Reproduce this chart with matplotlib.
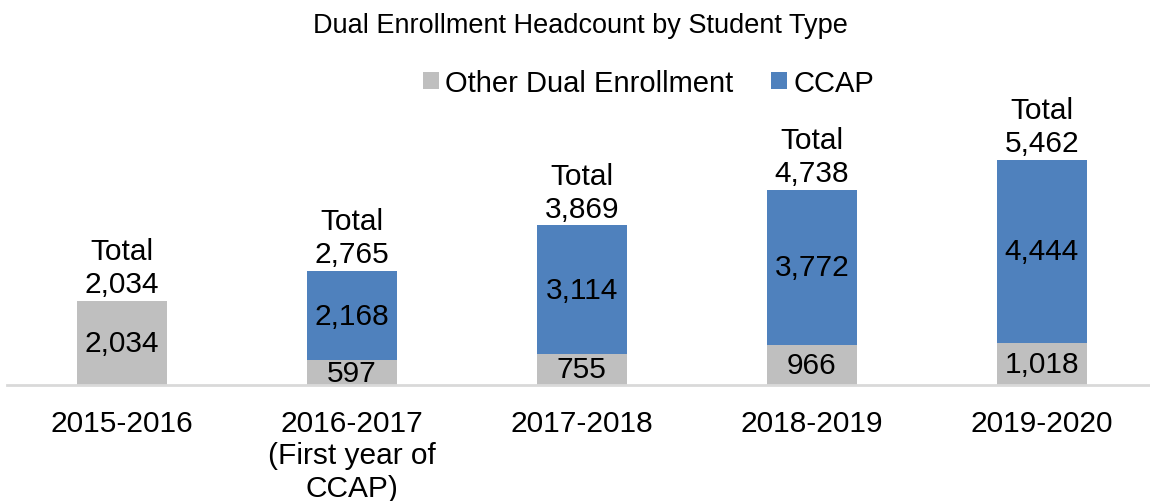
import matplotlib.pyplot as plt
import numpy as np

plt.rcParams['font.family'] = ['Liberation Sans', 'DejaVu Sans']

years = ["2015-2016", "2016-2017\n(First year of\nCCAP)", "2017-2018", "2018-2019", "2019-2020"]
other_de = [2034, 597, 755, 966, 1018]
ccap = [0, 2168, 3114, 3772, 4444]
totals = [2034, 2765, 3869, 4738, 5462]

gray = "#BFBFBF"
blue = "#4F81BD"
fs = 21.5

fig = plt.figure(figsize=(11.5, 5.02), dpi=100)
ax = fig.add_axes([0.006, 1 - 386 / 502, 1.0, (386 - 56) / 502])

x = np.arange(len(years))
w = 0.39
ax.bar(x, other_de, w, color=gray, label="Other Dual Enrollment")
ax.bar(x, ccap, w, bottom=other_de, color=blue, label="CCAP")

for i in x:
    ax.text(i, other_de[i] / 2, f"{other_de[i]:,}", ha='center', va='center', fontsize=fs)
    if ccap[i]:
        ax.text(i, other_de[i] + ccap[i] / 2, f"{ccap[i]:,}", ha='center', va='center', fontsize=fs)
    ax.text(i, totals[i] + 70, f"Total\n{totals[i]:,}", ha='center', va='bottom',
            fontsize=fs, linespacing=1.22)

ax.set_xlim(-0.5, len(years) - 0.5)
ax.set_ylim(0, 8000)
ax.set_xticks(x)
ax.set_xticklabels(years, fontsize=fs, linespacing=1.22)
ax.tick_params(axis='x', length=0, pad=17)
ax.set_yticks([])
for s in ['top', 'right', 'left']:
    ax.spines[s].set_visible(False)
ax.spines['bottom'].set_color("#D9D9D9")
ax.spines['bottom'].set_linewidth(2)
ax.set_facecolor('none')

fig.text(0.505, 1 - 26 / 502, "Dual Enrollment Headcount by Student Type", ha='center', va='center', fontsize=19.5)
fig.legend(loc='center', bbox_to_anchor=(0.564, 1 - 84 / 502), ncol=2, frameon=False, fontsize=21,
           handlelength=0.55, handleheight=0.55, handletextpad=0.2, columnspacing=1.3)

fig.savefig("out.png", dpi=100)
